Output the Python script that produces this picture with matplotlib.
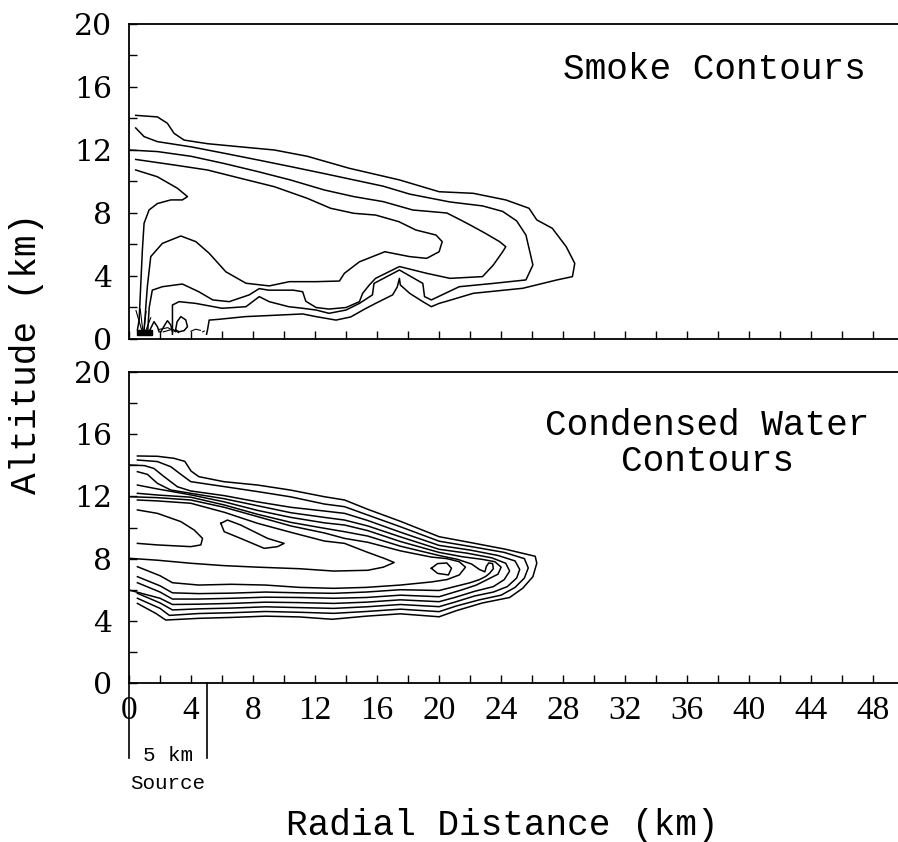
import matplotlib
matplotlib.use("Agg")
import matplotlib.pyplot as plt
from matplotlib.ticker import MultipleLocator

# ---- smoke contours (radial km, altitude km) ----
smoke_a = [(0.43, 14.2), (1.83, 14.1), (2.47, 13.7), (2.9, 13.06), (3.55, 12.63), (5.06, 12.4),
           (7.2, 12.2), (9.37, 12.0), (11.5, 11.6), (14.2, 10.84), (17.44, 10.1), (20.0, 9.35),
           (22.2, 9.25), (24.3, 8.83), (25.8, 8.3), (26.3, 7.56), (27.3, 7.03), (28.2, 5.86),
           (28.75, 4.8), (28.6, 3.96), (27.6, 3.75), (25.4, 3.22), (22.2, 2.9), (20.5, 2.4),
           (20.0, 2.26), (19.5, 2.05), (18.95, 2.37), (18.1, 2.9), (17.5, 3.43), (17.44, 3.85),
           (17.3, 3.3), (17.0, 2.8), (15.9, 2.26), (15.2, 1.9), (14.3, 1.4), (13.35, 1.2),
           (12.06, 1.42), (11.2, 1.59), (9.7, 1.52), (7.5, 1.42), (5.8, 1.25), (5.17, 1.2),
           (5.06, 0.57), (5.0, 0.3)]
smoke_b = [(0.43, 13.4), (0.97, 12.85), (1.83, 12.53), (4.0, 12.2), (6.1, 11.8), (8.3, 11.37),
           (10.4, 10.95), (12.6, 10.5), (14.5, 10.1), (16.4, 9.7), (18.1, 9.2), (20.7, 8.7),
           (22.8, 8.45), (24.1, 8.1), (25.0, 7.5), (25.6, 6.6), (26.05, 4.7), (25.6, 3.75),
           (23.5, 3.53), (21.3, 3.32), (19.5, 2.48), (19.06, 2.69), (18.95, 3.53), (17.44, 4.38),
           (15.8, 3.53), (15.7, 2.8), (14.86, 2.26), (14.0, 1.84), (12.9, 1.63), (12.06, 1.84),
           (11.2, 1.95), (10.3, 2.05), (9.04, 2.37), (8.4, 2.69), (7.54, 2.05), (6.0, 1.95),
           (4.3, 2.26), (3.23, 2.37), (2.8, 2.16), (2.8, 0.57), (2.8, 0.3)]
smoke_c = [(0.0, 12.0), (1.83, 11.9), (4.0, 11.6), (6.1, 11.15), (8.3, 10.63), (10.4, 10.1),
           (12.6, 9.46), (14.5, 9.04), (16.4, 8.72), (18.3, 8.19), (20.5, 8.0), (21.3, 7.6),
           (22.0, 7.24), (23.0, 6.7), (23.9, 6.18), (24.3, 5.86), (24.1, 5.54), (23.5, 4.7),
           (22.8, 3.96), (20.7, 3.85), (19.2, 4.17), (17.44, 4.6), (15.9, 3.85), (15.5, 3.43),
           (15.07, 2.9), (14.86, 2.37), (14.0, 2.0), (12.9, 1.9), (12.06, 2.0), (11.4, 2.4),
           (11.2, 3.0), (10.6, 3.1), (9.0, 3.1), (8.4, 3.2), (7.75, 2.8), (6.46, 2.37),
           (5.4, 2.48), (4.5, 3.0), (3.44, 3.49), (2.15, 3.32), (1.5, 3.1), (1.3, 2.0), (1.2, 0.4)]
smoke_e = [(0.43, 11.4), (2.9, 11.05), (5.06, 10.73), (7.2, 10.2), (9.37, 9.67), (11.5, 8.93),
           (13.0, 8.3), (14.5, 7.98), (15.9, 7.87), (17.4, 7.45), (18.5, 6.92), (19.8, 6.6),
           (20.2, 6.18), (20.0, 5.54), (19.2, 5.12), (18.1, 5.23), (16.5, 5.54), (14.86, 4.9),
           (13.89, 4.17), (13.57, 3.68), (12.06, 3.64), (10.34, 3.64), (9.04, 3.37), (7.54, 3.54),
           (6.24, 4.27), (5.17, 5.44), (4.31, 6.18), (3.34, 6.54), (2.15, 6.07), (1.4, 5.23),
           (1.18, 3.32), (0.97, 0.57)]
smoke_d = [(0.43, 10.73), (1.83, 10.3), (3.12, 9.57), (3.77, 9.04), (3.44, 8.83), (2.69, 8.83),
           (1.83, 8.6), (1.29, 8.19), (0.97, 7.35), (0.86, 5.65), (0.75, 3.32), (0.65, 1.2),
           (0.54, 0.57)]
smoke_peak_1 = [(1.29, 0.46), (1.61, 1.1), (1.83, 0.78), (1.94, 0.46)]
smoke_peak_2 = [(2.05, 0.46), (2.37, 1.0), (2.48, 1.16), (2.69, 0.89), (2.8, 0.46)]
smoke_loop = [(3.0, 0.57), (3.1, 1.1), (3.34, 1.42), (3.66, 1.21), (3.77, 0.78), (3.55, 0.53),
              (3.23, 0.46), (3.0, 0.57)]
smoke_fan = [[(0.85, 0.45), (0.45, 1.8)], [(0.9, 0.45), (0.72, 1.9)],
             [(0.95, 0.45), (1.1, 1.75)], [(1.05, 0.45), (1.4, 1.35)]]
smoke_scraps = [[(1.9, 0.6), (2.5, 0.72), (3.0, 0.45)], [(2.2, 0.45), (2.8, 0.62), (3.2, 0.4)],
                [(4.0, 0.5), (4.3, 0.62), (4.6, 0.55)], [(4.75, 0.45), (4.85, 0.5)]]
source_block_x = [0.5, 1.5, 1.5, 0.5]
source_block_y = [0.25, 0.25, 0.6, 0.6]

# ---- condensed water contours, bottom panel ----
water_1 = [(0.54, 14.6), (1.83, 14.58), (2.9, 14.45), (3.6, 14.25), (4.0, 13.63), (4.5, 13.27),
           (6.1, 12.95), (8.3, 12.73), (10.4, 12.41), (12.6, 11.98), (13.9, 11.77), (15.4, 11.17),
           (17.5, 10.4), (20.0, 9.41), (22.2, 9.0), (24.3, 8.6), (26.2, 8.15), (26.3, 7.7),
           (26.05, 6.84), (25.4, 6.1), (24.55, 5.5), (22.8, 5.15), (21.1, 4.65), (20.0, 4.26),
           (17.5, 4.45), (15.3, 4.3), (13.1, 4.1), (11.0, 4.25), (8.8, 4.3), (6.67, 4.22),
           (4.5, 4.16), (2.37, 4.05), (1.72, 4.48), (0.54, 5.12)]
water_2 = [(0.54, 14.34), (1.83, 14.24), (2.69, 13.91), (3.34, 13.42), (3.98, 12.95), (6.14, 12.63),
           (8.29, 12.31), (10.44, 11.97), (12.6, 11.51), (13.9, 11.34), (15.4, 10.8), (17.5, 10.05),
           (20.0, 9.12), (22.2, 8.75), (24.2, 8.4), (25.5, 8.0), (25.75, 7.4), (25.5, 6.75),
           (24.9, 6.15), (24.0, 5.65), (22.6, 5.35), (21.1, 4.95), (20.0, 4.59), (17.5, 4.75),
           (15.3, 4.6), (13.2, 4.48), (11.0, 4.55), (8.8, 4.6), (6.6, 4.52), (4.5, 4.47),
           (2.6, 4.35), (2.0, 4.8), (0.54, 5.45)]
water_3 = [(0.0, 14.02), (1.0, 13.98), (1.6, 13.8), (2.26, 13.27), (3.12, 12.62), (3.98, 12.35),
           (6.14, 12.05), (8.29, 11.65), (10.44, 11.3), (12.6, 11.06), (13.9, 10.91), (15.4, 10.45),
           (17.5, 9.7), (20.0, 8.85), (22.0, 8.55), (23.8, 8.2), (24.9, 7.85), (25.2, 7.3),
           (25.0, 6.75), (24.4, 6.2), (23.5, 5.85), (22.3, 5.6), (21.0, 5.2), (20.0, 4.91),
           (17.5, 5.05), (15.3, 4.9), (13.2, 4.8), (11.0, 4.85), (8.8, 4.9), (6.6, 4.82),
           (4.5, 4.77), (2.8, 4.7), (2.0, 5.15), (0.54, 5.77)]
water_4 = [(0.54, 13.59), (1.18, 13.42), (1.83, 12.84), (2.69, 12.41), (3.98, 12.2), (6.14, 11.85),
           (8.29, 11.4), (10.44, 10.95), (12.6, 10.65), (13.9, 10.48), (15.4, 10.1), (17.5, 9.4),
           (20.0, 8.6), (21.8, 8.35), (23.4, 8.05), (24.3, 7.7), (24.55, 7.2), (24.2, 6.65),
           (23.5, 6.2), (22.3, 5.9), (21.0, 5.5), (20.0, 5.23), (17.5, 5.35), (15.3, 5.2),
           (13.2, 5.12), (11.0, 5.17), (8.8, 5.2), (6.6, 5.12), (4.5, 5.07), (2.8, 5.05),
           (2.0, 5.45), (0.0, 5.98)]
water_5 = [(0.54, 12.73), (1.83, 12.48), (3.98, 12.1), (6.14, 11.65), (8.29, 11.1), (10.44, 10.65),
           (12.6, 10.3), (13.9, 10.16), (15.4, 9.8), (17.5, 9.1), (20.0, 8.4), (21.5, 8.12),
           (22.8, 7.95), (23.6, 7.8), (24.0, 7.45), (23.8, 7.0), (23.2, 6.7), (22.4, 6.3),
           (21.5, 6.0), (20.0, 5.55), (17.5, 5.65), (15.3, 5.5), (13.2, 5.45), (11.0, 5.5),
           (8.8, 5.52), (6.6, 5.45), (4.5, 5.4), (2.8, 5.4), (2.0, 5.85), (0.54, 6.45)]
water_6 = [(0.54, 12.2), (1.83, 12.09), (3.98, 11.95), (6.14, 11.45), (8.29, 10.85), (10.44, 10.33),
           (12.6, 9.95), (13.9, 9.73), (15.4, 9.45), (17.5, 8.8), (20.0, 8.2), (21.2, 7.95),
           (22.1, 7.65), (22.6, 7.3), (22.95, 7.15), (23.05, 7.5), (23.2, 7.72), (23.45, 7.68),
           (23.5, 7.35), (23.25, 7.05), (23.0, 6.85), (22.6, 6.65), (22.0, 6.45), (21.0, 6.2),
           (20.0, 5.95), (17.5, 6.0), (15.3, 5.85), (13.2, 5.77), (11.0, 5.8), (8.8, 5.85),
           (6.6, 5.78), (4.5, 5.75), (2.8, 5.8), (2.0, 6.25), (0.54, 6.84)]
water_7 = [(0.0, 11.98), (1.83, 11.92), (3.98, 11.77), (6.14, 11.3), (8.29, 10.7), (10.44, 10.1),
           (12.6, 9.65), (13.9, 9.3), (15.4, 9.05), (17.5, 8.5), (19.5, 8.1), (20.5, 8.0),
           (21.3, 7.8), (21.7, 7.45), (21.3, 6.95), (20.5, 6.65), (19.5, 6.5), (17.5, 6.3),
           (15.3, 6.15), (13.2, 6.09), (11.0, 6.15), (8.8, 6.3), (6.6, 6.35), (4.5, 6.3),
           (2.8, 6.45), (2.0, 6.9), (0.54, 7.48)]
water_8 = [(0.54, 11.77), (1.83, 11.71), (3.98, 11.56), (6.14, 10.98), (8.29, 10.27), (10.44, 9.69),
           (12.6, 9.13), (13.9, 8.98), (15.4, 8.4), (16.5, 8.0), (17.1, 7.75), (16.4, 7.45),
           (15.4, 7.25), (13.2, 7.2), (11.0, 7.35), (8.3, 7.45), (6.1, 7.55), (4.0, 7.7),
           (1.8, 7.9), (0.0, 8.02)]
water_oval_left = [(0.54, 11.13), (1.83, 10.91), (3.34, 10.38), (4.2, 9.84), (4.74, 9.3),
                   (4.63, 8.88), (3.98, 8.77), (1.83, 8.88), (0.54, 8.98)]
water_oval_mid = [(5.92, 10.27), (6.35, 10.48), (7.2, 10.16), (8.94, 9.3), (10.0, 8.98),
                  (9.58, 8.77), (8.72, 8.66), (7.2, 9.3), (6.14, 9.73), (5.92, 10.27)]
water_oval_small = [(19.5, 7.38), (19.9, 7.68), (20.5, 7.72), (20.8, 7.38), (20.6, 6.95),
                    (19.9, 7.05), (19.5, 7.38)]

source_km = [0, 5]
x_ticks = list(range(0, 49, 4))
y_ticks = list(range(0, 21, 4))

fig = plt.figure(figsize=(8.98, 8.42), dpi=100)
ax_top = fig.add_axes([0.1437, 0.5974, 0.8563, 0.3741])
ax_bot = fig.add_axes([0.1437, 0.1888, 0.8563, 0.3694])


def draw(ax, pts, lw=1.1):
    xs, ys = zip(*pts)
    ax.plot(xs, ys, color="black", lw=lw, solid_joinstyle="round")


for ax in (ax_top, ax_bot):
    ax.set_xlim(0, 49.6)
    ax.set_ylim(0, 20)
    ax.spines["right"].set_visible(False)
    for s in ("left", "top", "bottom"):
        ax.spines[s].set_linewidth(1.3)
    ax.set_xticks(x_ticks)
    ax.set_yticks(y_ticks)
    ax.xaxis.set_minor_locator(MultipleLocator(2))
    ax.yaxis.set_minor_locator(MultipleLocator(2))
    ax.tick_params(which="both", direction="in", length=6, width=1.0)
    ax.tick_params(axis="y", labelsize=21.5, pad=12, labelfontfamily="DejaVu Serif")
    ax.tick_params(axis="x", labelsize=24, pad=9, labelfontfamily="Liberation Serif")

ax_top.tick_params(axis="x", labelbottom=False)

for c in (smoke_a, smoke_b, smoke_c, smoke_e, smoke_d,
          smoke_peak_1, smoke_peak_2, smoke_loop):
    draw(ax_top, c)
for c in smoke_fan + smoke_scraps:
    draw(ax_top, c, lw=0.8)
ax_top.fill(source_block_x, source_block_y, color="black")

for c in (water_1, water_2, water_3, water_4, water_5, water_6, water_7, water_8,
          water_oval_left, water_oval_mid, water_oval_small):
    draw(ax_bot, c)

ax_top.text(28.0, 17.1, "Smoke Contours", ha="left", va="center",
            fontsize=26, family="Liberation Mono")
ax_bot.text(37.3, 15.4, "Condensed Water\nContours", ha="center", va="center",
            multialignment="center", linespacing=1.05, fontsize=26, family="Liberation Mono")

# source bracket below the x axis
for xs in source_km:
    ax_bot.plot([xs, xs], [0, -4.8], color="black", lw=1.2, clip_on=False)
ax_bot.text(sum(source_km) / 2, -4.65, "5 km", ha="center", va="center",
            fontsize=15, family="Liberation Mono")
ax_bot.text(sum(source_km) / 2, -6.45, "Source", ha="center", va="center",
            fontsize=15, family="Liberation Mono")

fig.text(0.03, 0.58, "Altitude (km)", rotation=90, ha="center", va="center",
         fontsize=26, family="Liberation Mono")
fig.text(0.559, 0.02, "Radial Distance (km)", ha="center", va="center",
         fontsize=26, family="Liberation Mono")

fig.savefig("out.png", dpi=100)
